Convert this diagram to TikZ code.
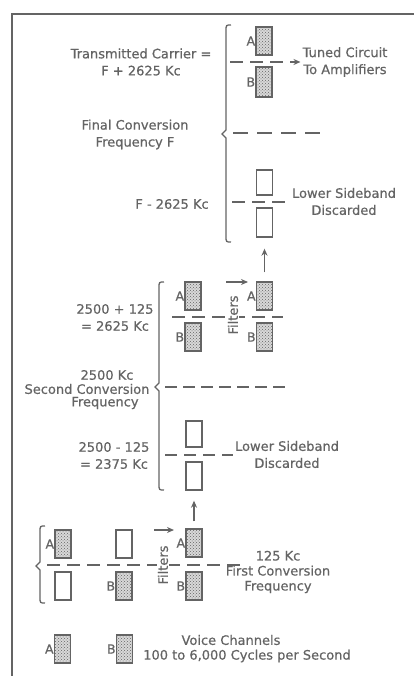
\documentclass[tikz,border=0pt]{standalone}
\usepackage{fontspec}
\setmainfont{DejaVu Sans}[RawFeature={embolden=0.6}]
\usetikzlibrary{patterns,arrows.meta}
\definecolor{ink}{RGB}{100,100,100}
\newcommand\brkt[4]{%
  \draw[brk] ({#1+5},#2) .. controls (#1,#2) .. (#1,{#2+6}) -- (#1,{#3-4}) -- ({#1-4},#3) -- (#1,{#3+4}) -- (#1,{#4-6}) .. controls (#1,#4) .. ({#1+5},#4);}
\begin{document}
\begin{tikzpicture}[x=1pt,y=-1pt,
  every node/.style={text=ink},
  txt/.style={font=\fontsize{13}{17}\selectfont, align=center, inner sep=0pt},
  lab/.style={font=\fontsize{12.5}{14}\selectfont, inner sep=0pt, text=ink},
  box/.style={draw=ink, line width=1.4pt, minimum width=16pt, minimum height=28pt, inner sep=0pt, label distance=3pt},
  chan/.style={box, preaction={fill=ink!25}, pattern=crosshatch dots, pattern color=ink},
  side/.style={box},
  filt/.style={txt, rotate=90, fill=white, inner sep=1pt},
  dline/.style={draw=ink, line width=1.4pt, dash pattern=on 13pt off 7pt},
  brk/.style={draw=ink, line width=1.3pt},
  arr/.style={draw=ink, line width=1.3pt, -{Stealth[length=7pt,width=6pt]}},
]
\useasboundingbox (0,0) rectangle (414,676);
% frame
\draw[ink, line width=2pt] (414,14) -- (12,14) -- (12,676);

% ---------- final conversion ----------
\node[chan, label={[lab]left:A}] (s1a) at (264,41) {};
\node[chan, minimum height=30pt, label={[lab]left:B}] (s1b) at (264,82) {};
\node[txt] (tuned) at (345,62) {Tuned Circuit\\To Amplifiers};
\coordinate (s1l) at (230,62);
\draw[dline, arr, shorten >=2pt] (s1l) -- (tuned.west);
\node[txt] (carrier) at (141,62) {Transmitted Carrier =\\F + 2625 Kc};
\node[txt] (final) at (135,134.5) {Final Conversion\\Frequency F};
\coordinate (s1fl) at (233,133);
\coordinate (s1fr) at (320,133);
\draw[dline, dash pattern=on 15pt off 9pt] (s1fl) -- (s1fr);
\node[txt] (fminus) at (172,204) {F - 2625 Kc};
\node[side, minimum height=25pt] (s1u) at (264.5,182.5) {};
\node[side, minimum height=29pt] (s1d) at (264.5,222.5) {};
\coordinate (s1ll) at (232,202);
\coordinate (s1lr) at (285,202);
\draw[dline] (s1ll) -- (s1lr);
\node[txt] (disc1) at (344,201.5) {Lower Sideband\\Discarded};
\brkt{226}{25}{134}{242}

% ---------- second conversion ----------
\coordinate (s2l) at (172,317);
\coordinate (s2r) at (283,317);
\draw[dline] (s2l) -- (s2r);
\node[chan, label={[lab]left:A}] (s2a1) at (193,296) {};
\node[chan, label={[lab]left:B}] (s2b1) at (193,337) {};
\node[chan, label={[lab]left:A}] (s2a2) at (264.5,296) {};
\node[chan, label={[lab]left:B}] (s2b2) at (264.5,337) {};
\node[filt] (filt2) at (233,315) {Filters};
\coordinate (f2s) at (226,282);
\coordinate (f2e) at (248,282);
\draw[arr] (f2s) -- (f2e);
\node[txt] (sum2) at (115,317.5) {2500 + 125\\= 2625 Kc};
\node[txt] (k2500) at (107,375) {2500 Kc};
\node[txt] (second) at (87,389) {Second Conversion};
\node[txt] (freq2) at (105,403) {Frequency};
\coordinate (s2ml) at (165,387);
\coordinate (s2mr) at (285,387);
\draw[dline, dash pattern=on 12pt off 6pt] (s2ml) -- (s2mr);
\node[side, minimum height=26pt] (s2u) at (194,434) {};
\node[side] (s2d) at (194,476) {};
\coordinate (s2ll) at (165,455);
\coordinate (s2lr) at (233,455);
\draw[dline, dash pattern=on 12pt off 7pt] (s2ll) -- (s2lr);
\node[txt] (diff2) at (114,455.5) {2500 - 125\\= 2375 Kc};
\node[txt] (disc2) at (287,454.5) {Lower Sideband\\Discarded};
\brkt{159}{282}{387}{490}
\draw[arr, shorten <=9pt, shorten >=11pt] (s2a2.north) -- (s1d.south);

% ---------- first conversion ----------
\coordinate (s3l) at (47,565);
\coordinate (s3r) at (240,565);
\draw[dline, dash pattern=on 13pt off 7pt] (s3l) -- (s3r);
\node[chan, label={[lab]left:A}] (s3a1) at (63,544) {};
\node[side] (s3l1) at (63,586) {};
\node[side] (s3u2) at (124,544) {};
\node[chan, label={[lab]left:B}] (s3b2) at (124,586) {};
\node[chan, label={[lab]left:A}] (s3a3) at (194,543) {};
\node[chan, label={[lab]left:B}] (s3b3) at (194,586) {};
\node[filt] (filt3) at (163,565) {Filters};
\coordinate (f3s) at (154,530);
\coordinate (f3e) at (174,530);
\draw[arr] (f3s) -- (f3e);
\node[txt, font=\fontsize{13}{15}\selectfont] (first) at (278,572) {125 Kc\\First Conversion\\Frequency};
\brkt{40}{526}{566}{603}
\draw[arr, shorten <=7pt, shorten >=10pt] (s3a3.north) -- (s2d.south);

% ---------- voice channels ----------
\node[chan, label={[lab]left:A}] (va) at (62.5,649) {};
\node[chan, label={[lab]left:B}] (vb) at (124.5,649) {};
\node[txt] (voice) at (231,640) {Voice Channels};
\node[txt] (cycles) at (247,656) {100 to 6,000 Cycles per Second};
\end{tikzpicture}
\end{document}
